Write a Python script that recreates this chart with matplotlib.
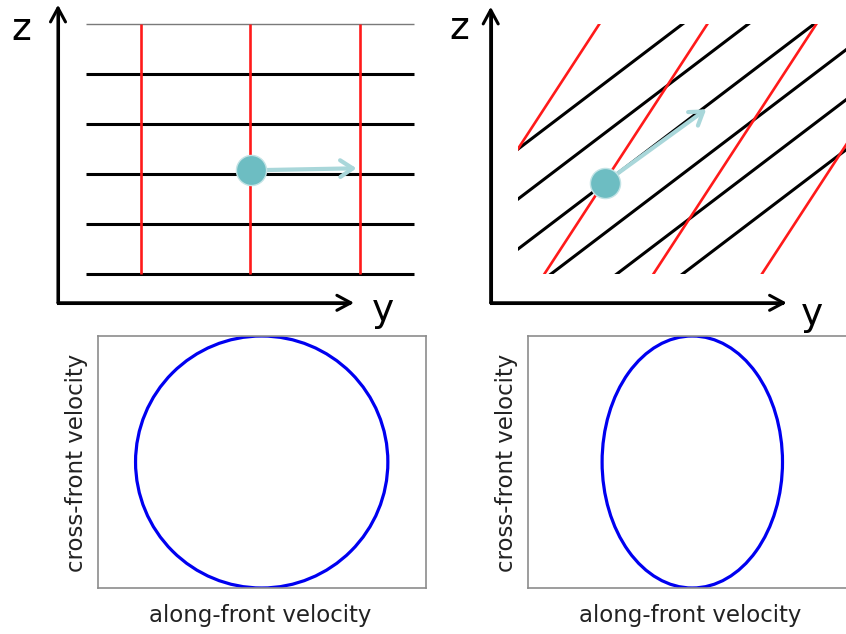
import matplotlib.pyplot as plt
from matplotlib.patches import Ellipse, Rectangle
import numpy as np

# --- schematic data (grid units: one unit = spacing between black lines) ---
grid_w = 6.56
grid_h = 5
black_z = [0, 1, 2, 3, 4]          # black lines, left panel
top_z = 5                          # thin grey line at the top
red_y = [1.09, 3.28, 5.47]         # red verticals, left panel

# right panel: tilted lines, z = slope * y + k
black_slope = 0.76
black_k = [2.5, 1.5, 0.5, -0.5, -1.5, -2.5]
red_slope = 1.534
red_y0 = [-1.63, 0.53, 2.71, 4.88]

# parcel and velocity arrow
dot_left = (3.30, 2.08)
tip_left = (5.41, 2.12)
dot_right = (1.74, 1.83)
tip_right = (3.77, 3.30)

# coordinate axes arrows
origin_left = (-0.56, -0.57)
ztip_left = 5.39
ytip_left = 5.36
origin_right = (-0.54, -0.57)
ztip_right = 5.35
ytip_right = 5.38

# hodographs: semi axes of the velocity ellipse
along_amp = [1.0, 0.715]
cross_amp = [1.0, 1.0]

teal = '#6dbdc2'
teal_light = '#a9d7da'

fig = plt.figure(figsize=(8.46, 6.34), dpi=100)
fig.patch.set_facecolor('white')


def draw_frame(ax, origin, ztip, ytip, zlab, ylab):
    ox, oz = origin
    ax.plot([ox, ox, ytip - 0.1], [ztip - 0.1, oz, oz], color='black', lw=2.2,
            solid_joinstyle='miter')
    arrow = dict(arrowstyle='->, head_length=0.5, head_width=0.27', lw=2.2,
                 color='black', shrinkA=0, shrinkB=0, mutation_scale=20)
    ax.annotate('', xy=(ox, ztip), xytext=(ox, oz), arrowprops=arrow)
    ax.annotate('', xy=(ytip, oz), xytext=(ox, oz), arrowprops=arrow)
    ax.text(zlab[0], zlab[1], 'z', fontsize=27, ha='center', va='baseline')
    ax.text(ylab[0], ylab[1], 'y', fontsize=27, ha='center', va='baseline')


def draw_parcel(ax, dot, tip):
    ax.annotate('', xy=tip, xytext=dot,
                arrowprops=dict(arrowstyle='->, head_length=0.45, head_width=0.3',
                                lw=3, color=teal_light, shrinkA=10, shrinkB=0,
                                mutation_scale=20), zorder=5)
    ax.scatter([dot[0]], [dot[1]], s=470, color=teal, edgecolor='#c2e3e5',
               linewidth=1, zorder=6)


# top left: flat front
ax1 = fig.add_axes([0, 304 / 634, 423 / 846, 330 / 634])
ax1.set_xlim(-1.72, 6.74)
ax1.set_ylim(-1.114, 5.486)
ax1.axis('off')
for z in black_z:
    ax1.plot([0, grid_w], [z, z], color='black', lw=2.2, solid_capstyle='butt')
ax1.plot([0, grid_w], [top_z, top_z], color='#7a7a7a', lw=1, solid_capstyle='butt')
for y in red_y:
    ax1.plot([y, y], [0, grid_h], color='#ff1a1a', lw=1.9, solid_capstyle='butt')
draw_parcel(ax1, dot_left, tip_left)
draw_frame(ax1, origin_left, ztip_left, ytip_left, (-1.30, 4.69), (5.94, -0.93))

# top right: tilted front
ax2 = fig.add_axes([423 / 846, 304 / 634, 423 / 846, 330 / 634])
ax2.set_xlim(-1.894, 6.566)
ax2.set_ylim(-1.114, 5.486)
ax2.axis('off')
clip = Rectangle((0, 0), grid_w, grid_h, facecolor='none', edgecolor='none')
ax2.add_patch(clip)
ys = np.array([-6.0, 12.0])
for k in black_k:
    ln, = ax2.plot(ys, black_slope * ys + k, color='black', lw=2.2)
    ln.set_clip_path(clip)
for y0 in red_y0:
    ln, = ax2.plot(ys, red_slope * (ys - y0), color='#ff1a1a', lw=1.9)
    ln.set_clip_path(clip)
draw_parcel(ax2, dot_right, tip_right)
draw_frame(ax2, origin_right, ztip_right, ytip_right, (-1.17, 4.71), (5.89, -1.01))

# bottom: hodographs
for i, left in enumerate([97.7, 528.3]):
    ax = fig.add_axes([left / 846, 46 / 634, 328 / 846, 252 / 634])
    ax.set_xlim(-1.3, 1.3)
    ax.set_ylim(-1, 1)
    ax.set_xticks([])
    ax.set_yticks([])
    for sp in ax.spines.values():
        sp.set_color('#8c8c8c')
        sp.set_linewidth(1.2)
    ax.add_patch(Ellipse((0, 0), 2 * along_amp[i], 2 * cross_amp[i],
                         fill=False, edgecolor='#0000f0', lw=2.3))
    ax.set_xlabel('along-front velocity', fontsize=16.5, color='#222222')
    ax.set_ylabel('cross-front velocity', fontsize=16.5, color='#222222')
    ax.xaxis.label.set_va('center')
    ax.yaxis.label.set_va('center')
    ax.xaxis.set_label_coords(0.495, -0.11)
    ax.yaxis.set_label_coords(-0.065, 0.495)

fig.savefig('out.png', dpi=100)
